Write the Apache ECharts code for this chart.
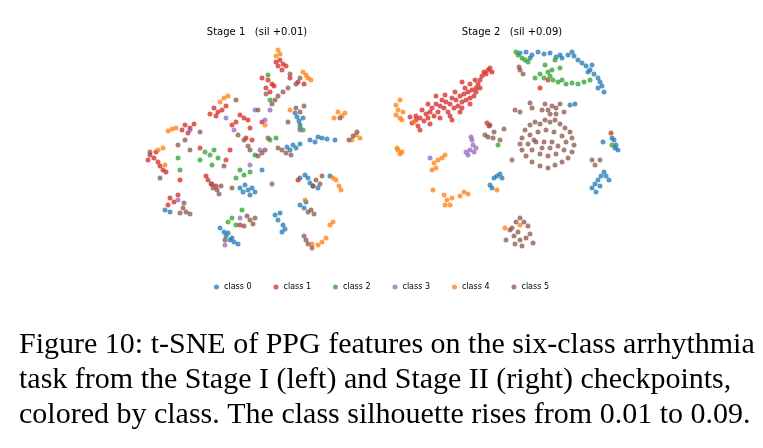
<!DOCTYPE html>
<html><head><meta charset="utf-8">
<script src="https://cdn.jsdelivr.net/npm/echarts@6/dist/echarts.min.js"></script>
<style>body{margin:0;background:#fff}#c{width:763px;height:448px}</style>
</head><body><div id="c"></div>
<script>
// t-SNE points (x, y in embedding units)
const classNames = ["class 0", "class 1", "class 2", "class 3", "class 4", "class 5"];
const colors = ["#1f77b4", "#d62728", "#2ca02c", "#9467bd", "#ff7f0e", "#8c564b"];

const stage1 = [
  [[297,117],[299,121],[295,113],[300,125],[303,118],[293,145],[296,148],[290,150],[300,144],[310,140],[318,137],[322,138],[327,139],[335,140],[315,142],[305,175],[308,178],[310,183],[313,186],[318,188],[300,178],[245,185],[248,190],[243,192],[252,188],[250,195],[240,188],[255,192],[275,215],[278,220],[280,213],[283,225],[285,229],[282,232],[300,205],[304,208],[306,202],[220,228],[224,232],[226,236],[230,240],[234,242],[238,244],[228,233],[232,238],[165,210],[170,212],[287,147],[262,170],[330,176]],
  [[280,60],[283,64],[286,66],[282,70],[278,66],[276,62],[268,80],[272,84],[266,88],[270,92],[274,86],[262,78],[214,108],[218,112],[222,110],[210,114],[226,106],[216,116],[185,125],[190,128],[182,130],[188,133],[194,124],[150,155],[154,158],[158,162],[160,166],[163,170],[156,152],[148,160],[166,172],[240,115],[244,118],[248,120],[236,122],[250,128],[246,138],[252,140],[208,180],[212,184],[206,176],[216,186],[170,198],[174,202],[168,205],[178,195],[230,150],[226,160],[200,148],[290,78],[298,82],[304,84],[232,125],[262,122],[298,180],[240,225],[180,180]],
  [[205,152],[210,155],[214,150],[200,160],[218,158],[240,170],[244,175],[236,178],[250,172],[228,222],[232,218],[236,225],[270,140],[276,138],[300,128],[303,130],[180,170],[270,100],[242,210],[212,165],[255,155],[268,75],[178,158]],
  [[226,118],[260,150],[270,110],[190,130],[234,130],[300,130],[250,165],[225,245],[240,218],[178,200],[255,110],[265,120]],
  [[278,50],[280,54],[276,56],[306,75],[308,78],[303,72],[311,80],[172,129],[168,131],[176,128],[224,98],[228,96],[220,102],[158,150],[163,148],[338,112],[342,116],[334,118],[345,113],[356,135],[360,138],[352,140],[336,180],[339,186],[341,190],[333,178],[318,245],[322,242],[326,238],[312,244],[330,225],[333,222],[165,165],[305,200],[290,110],[265,125]],
  [[283,92],[278,96],[275,100],[288,88],[272,104],[296,108],[300,112],[304,106],[300,78],[296,84],[290,74],[262,153],[258,156],[265,150],[282,150],[286,153],[278,148],[291,155],[213,188],[217,190],[211,184],[219,194],[221,186],[183,208],[186,212],[180,213],[190,214],[184,203],[250,220],[247,216],[253,224],[244,226],[255,218],[316,180],[320,184],[313,186],[322,176],[353,136],[349,140],[357,132],[308,212],[311,210],[314,214],[306,240],[308,244],[304,236],[312,248],[244,140],[248,146],[250,150],[238,135],[150,152],[160,178],[178,145],[185,140],[190,150],[224,166],[236,100],[266,94],[258,110],[340,118],[268,138],[232,188],[272,184],[200,132],[288,122],[225,240]]
];

const stage2 = [
  [[520,53],[526,52],[532,55],[538,52],[544,54],[550,53],[556,57],[562,58],[568,55],[574,56],[578,60],[582,63],[586,66],[590,70],[594,74],[598,78],[600,82],[602,86],[598,88],[604,92],[592,65],[588,72],[530,58],[560,55],[572,52],[614,140],[616,145],[618,150],[615,148],[612,138],[603,142],[592,188],[595,184],[598,180],[601,176],[604,172],[606,176],[596,192],[600,186],[609,180],[494,178],[497,176],[500,174],[502,178],[490,185],[492,188],[570,105],[575,104]],
  [[412,123],[416,120],[420,118],[424,121],[418,126],[422,110],[426,114],[430,112],[428,118],[432,108],[436,104],[440,106],[438,112],[434,116],[442,100],[446,102],[444,108],[448,112],[450,104],[452,98],[456,100],[454,108],[458,106],[460,96],[462,102],[464,94],[466,100],[468,92],[470,98],[472,90],[474,96],[476,88],[478,84],[480,80],[482,76],[484,72],[486,74],[488,70],[476,92],[470,104],[462,108],[450,116],[440,118],[430,124],[445,95],[455,92],[465,88],[475,80],[480,88],[460,112],[452,120],[436,96],[428,104],[490,68],[492,72],[416,116],[410,117],[420,130],[470,84],[462,82],[487,123],[489,126],[540,88],[548,80],[611,133]],
  [[518,55],[522,58],[516,52],[525,60],[545,65],[548,72],[544,78],[550,76],[540,74],[553,80],[558,82],[562,80],[566,84],[572,83],[578,84],[584,82],[590,80],[552,70],[555,60],[560,68],[612,145],[528,62],[535,78],[498,145]],
  [[472,140],[473,145],[470,150],[468,155],[474,152],[476,148],[466,152],[471,137],[430,158]],
  [[396,105],[398,110],[396,115],[400,118],[403,112],[402,120],[400,100],[414,122],[398,150],[400,154],[402,152],[397,148],[434,163],[438,160],[442,158],[436,168],[445,155],[432,170],[447,200],[450,205],[445,205],[452,198],[444,195],[460,196],[464,192],[468,194],[433,190],[497,190],[520,225],[505,228]],
  [[525,130],[530,125],[535,122],[540,124],[545,120],[550,122],[555,120],[560,124],[565,128],[570,132],[572,138],[574,145],[572,152],[568,158],[562,162],[555,165],[548,168],[540,166],[532,162],[526,156],[522,150],[520,144],[522,138],[530,135],[538,132],[546,130],[554,132],[562,136],[566,142],[564,150],[556,154],[548,156],[540,154],[532,150],[528,144],[536,142],[544,142],[552,142],[558,146],[550,148],[542,148],[534,140],[548,110],[552,106],[556,108],[560,104],[564,112],[556,114],[550,114],[545,104],[542,110],[530,103],[532,108],[515,110],[520,112],[520,70],[523,74],[519,67],[485,135],[488,137],[494,132],[500,140],[493,138],[504,129],[490,125],[512,228],[516,222],[520,218],[524,222],[528,226],[518,232],[514,236],[520,240],[526,238],[530,234],[510,230],[515,244],[522,246],[533,243],[506,240],[592,160],[595,165],[512,160],[600,160]]
];

const chart = echarts.init(document.getElementById("c"));

const series = [];
[stage1, stage2].forEach((panel, p) => {
  panel.forEach((pts, k) => {
    series.push({
      name: classNames[k],
      type: "scatter",
      xAxisIndex: p,
      yAxisIndex: p,
      data: pts,
      symbolSize: 5,
      itemStyle: { color: colors[k], opacity: 0.75 },
      silent: true,
    });
  });
});

const hiddenAxis = { type: "value", show: false };
const caption = [
  "Figure 10: t-SNE of PPG features on the six-class arrhythmia",
  "task from the Stage I (left) and Stage II (right) checkpoints,",
  "colored by class. The class silhouette rises from 0.01 to 0.09.",
];

chart.setOption({
  animation: false,
  title: [
    { text: "Stage 1   (sil +0.01)", left: 252, top: 22, textAlign: "center",
      textStyle: { fontFamily: "DejaVu Sans", fontSize: 10, fontWeight: "normal", color: "#000" } },
    { text: "Stage 2   (sil +0.09)", left: 507, top: 22, textAlign: "center",
      textStyle: { fontFamily: "DejaVu Sans", fontSize: 10, fontWeight: "normal", color: "#000" } },
  ],
  legend: {
    data: classNames,
    top: 278,
    left: "center",
    icon: "circle",
    itemWidth: 5,
    itemHeight: 5,
    itemGap: 22,
    textStyle: { fontFamily: "DejaVu Sans", fontSize: 8, color: "#000" },
  },
  grid: [
    { left: 130, top: 40, width: 240, height: 220 },
    { left: 385, top: 40, width: 245, height: 220 },
  ],
  xAxis: [
    { ...hiddenAxis, gridIndex: 0, min: 130, max: 370 },
    { ...hiddenAxis, gridIndex: 1, min: 385, max: 630 },
  ],
  yAxis: [
    { ...hiddenAxis, gridIndex: 0, min: 40, max: 260, inverse: true },
    { ...hiddenAxis, gridIndex: 1, min: 40, max: 260, inverse: true },
  ],
  series: series,
  graphic: caption.map((line, i) => ({
    type: "text",
    left: 19,
    top: 330 + i * 35,
    style: { text: line, font: "30px 'Liberation Serif'", fill: "#000" },
  })),
});
</script></body></html>
